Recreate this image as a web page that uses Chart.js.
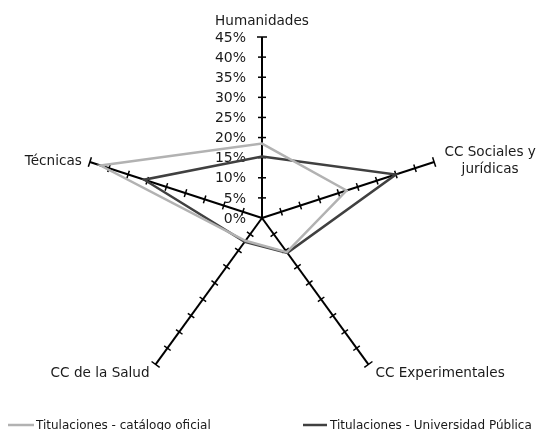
<!DOCTYPE html>
<html>
<head>
<meta charset="utf-8">
<script src="https://cdn.jsdelivr.net/npm/chart.js@4/dist/chart.umd.min.js"></script>
<style>
  html, body { margin: 0; padding: 0; background: #fff; }
  #wrap { width: 543px; height: 430px; }
</style>
</head>
<body>
<div id="wrap"><canvas id="radar-chart" width="543" height="430"></canvas></div>
<script>
// Categories (axes), clockwise from the top
const categories = ['Humanidades', ['CC Sociales y', 'jurídicas'], 'CC Experimentales', 'CC de la Salud', 'Técnicas'];

// Series values (%)
const catalogoOficial = [18.5, 22.1, 10.5, 7.0, 42.2];
const universidadPublica = [15.3, 35.0, 10.7, 7.3, 30.8];

const seriesLabels = ['Titulaciones - catálogo oficial', 'Titulaciones - Universidad Pública'];

// Tick labels on the Humanidades axis
const tickValues = [0, 5, 10, 15, 20, 25, 30, 35, 40, 45];
const tickLabels = ['0%', '5%', '10%', '15%', '20%', '25%', '30%', '35%', '40%', '45%'];

const FONT = '"DejaVu Sans", Verdana, sans-serif';

// Draws the tick marks on every axis, the % labels and the axis names
const axisDecor = {
    id: 'axisDecor',
    beforeDatasetsDraw(chart) {
        const scale = chart.scales.r;
        const ctx = chart.ctx;
        ctx.save();
        ctx.strokeStyle = '#000';
        ctx.lineWidth = 1.5;
        for (let i = 0; i < categories.length; i++) {
            const a = scale.getIndexAngle(i);
            // perpendicular direction to the axis
            const px = Math.cos(a), py = Math.sin(a);
            tickValues.forEach(v => {
                if (v === 0) return;
                const p = scale.getPointPositionForValue(i, v);
                const half = v === 45 ? 5 : 4;
                ctx.beginPath();
                ctx.moveTo(p.x - px * half, p.y - py * half);
                ctx.lineTo(p.x + px * half, p.y + py * half);
                ctx.stroke();
            });
        }

        // % labels left of the top axis
        ctx.fillStyle = '#1a1a1a';
        ctx.font = '14px ' + FONT;
        ctx.textAlign = 'right';
        ctx.textBaseline = 'middle';
        tickValues.forEach((v, k) => {
            const p = scale.getPointPositionForValue(0, v);
            ctx.fillText(tickLabels[k], p.x - 16, p.y + 1);
        });

        // axis names
        ctx.font = '13.6px ' + FONT;
        const place = [
            { align: 'center', dx: 0, dy: -16 },
            { align: 'center', dx: 56, dy: -10 },
            { align: 'left', dx: 7, dy: 9 },
            { align: 'right', dx: -6, dy: 9 },
            { align: 'right', dx: -8, dy: -1 }
        ];
        categories.forEach((name, i) => {
            const p = scale.getPointPositionForValue(i, scale.max);
            const lines = Array.isArray(name) ? name : [name];
            ctx.textAlign = place[i].align;
            lines.forEach((ln, j) => {
                ctx.fillText(ln, p.x + place[i].dx, p.y + place[i].dy + j * 17);
            });
        });
        ctx.restore();
    },
    afterDraw(chart) {
        // legend along the bottom edge
        const ctx = chart.ctx;
        const items = [
            { x1: 8, x2: 34, tx: 36 },
            { x1: 303, x2: 327, tx: 330 }
        ];
        ctx.save();
        ctx.font = '12px ' + FONT;
        ctx.textAlign = 'left';
        ctx.textBaseline = 'alphabetic';
        chart.data.datasets.forEach((ds, k) => {
            const it = items[k];
            ctx.strokeStyle = ds.borderColor;
            ctx.lineWidth = 2.5;
            ctx.beginPath();
            ctx.moveTo(it.x1, 425);
            ctx.lineTo(it.x2, 425);
            ctx.stroke();
            ctx.fillStyle = '#1a1a1a';
            ctx.fillText(ds.label, it.tx, 429);
        });
        ctx.restore();
    }
};

const ctx = document.getElementById('radar-chart').getContext('2d');
window.radarChart = new Chart(ctx, {
    type: 'radar',
    data: {
        labels: categories,
        datasets: [{
            label: seriesLabels[0],
            data: catalogoOficial,
            borderColor: '#b2b2b2',
            borderWidth: 2.5,
            fill: false,
            pointRadius: 0,
            tension: 0
        }, {
            label: seriesLabels[1],
            data: universidadPublica,
            borderColor: '#404040',
            borderWidth: 2.5,
            fill: false,
            pointRadius: 0,
            tension: 0
        }]
    },
    options: {
        responsive: false,
        animation: false,
        layout: {
            padding: { top: 37, bottom: 31, left: 0, right: 19 }
        },
        plugins: {
            legend: { display: false },
            tooltip: { enabled: false }
        },
        scales: {
            r: {
                min: 0,
                max: 45,
                ticks: { stepSize: 5, display: false },
                grid: { display: false },
                angleLines: { display: true, color: '#000', lineWidth: 2 },
                pointLabels: { display: false }
            }
        }
    },
    plugins: [axisDecor]
});
</script>
</body>
</html>
